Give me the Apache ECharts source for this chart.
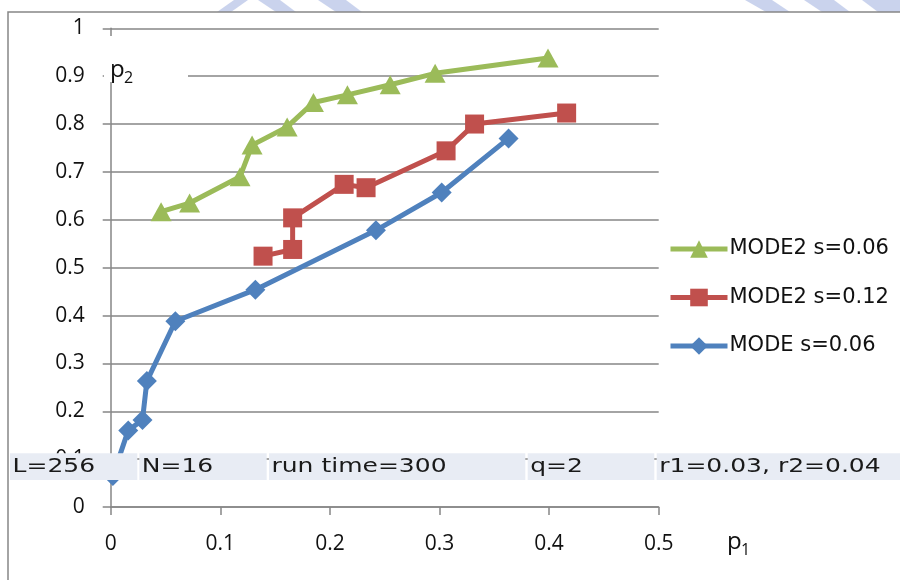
<!DOCTYPE html>
<html>
<head>
<meta charset="utf-8">
<script src="https://cdn.jsdelivr.net/npm/echarts@6/dist/echarts.min.js"></script>
<style>
  html, body { margin: 0; padding: 0; background: #fff; }
  #chart { width: 900px; height: 580px; }
</style>
</head>
<body>
<div id="chart"></div>
<script>
// MODE2, s=0.06 (triangles)
const mode2s006X = [0.046, 0.072, 0.118, 0.129, 0.161, 0.185, 0.216, 0.255, 0.296, 0.399];
const mode2s006Y = [0.617, 0.635, 0.690, 0.756, 0.794, 0.845, 0.861, 0.882, 0.906, 0.938];
// MODE2, s=0.12 (squares)
const mode2s012X = [0.139, 0.166, 0.166, 0.213, 0.233, 0.306, 0.332, 0.416];
const mode2s012Y = [0.524, 0.538, 0.604, 0.674, 0.667, 0.744, 0.800, 0.823];
// MODE, s=0.06 (diamonds)
const modeS006X = [0.002, 0.016, 0.029, 0.033, 0.059, 0.132, 0.242, 0.302, 0.363];
const modeS006Y = [0.065, 0.160, 0.182, 0.263, 0.388, 0.454, 0.578, 0.657, 0.770];

const seriesNames = ['MODE2 s=0.06', 'MODE2 s=0.12', 'MODE s=0.06'];
const infoCells = ['L=256', 'N=16', 'run time=300', 'q=2', 'r1=0.03, r2=0.04'];
const xTicks = { min: 0, max: 0.5, step: 0.1 };
const yTicks = { min: 0, max: 1, step: 0.1 };

const pairs = (xs, ys) => xs.map((x, i) => [x, ys[i]]);

const gridLeft = 110.7, gridTop = 28.3, gridRight = 900 - 658.7, gridBottom = 580 - 507;
const axisGray = '#868686';
const tickFont = 'Open Sans';
const lineW = 5;

// parameter strip cells across the lower part of the plot
const cellBounds = [[10, 137.3], [139.3, 266.7], [269, 525.3], [527.7, 654.3], [656.7, 900]];
const stripTop = 453.3, stripBottom = 480;
const stripGraphics = [];
infoCells.forEach((txt, i) => {
  const [x0, x1] = cellBounds[i];
  stripGraphics.push({
    type: 'rect', z: 100, silent: true,
    shape: { x: x0, y: stripTop, width: x1 - x0, height: stripBottom - stripTop },
    style: { fill: '#e8ecf4' }
  });
  stripGraphics.push({
    type: 'text', z: 101, silent: true,
    x: x0 + 2.5, y: (stripTop + stripBottom) / 2 + 0.5, scaleX: 1.25,
    style: { text: txt, fontFamily: 'DejaVu Sans', fontSize: 20, fill: '#1a1a1a',
             align: 'left', verticalAlign: 'middle' }
  });
});

// faint bluish band fragments along the top edge
const bandColor = 'rgba(150,168,220,0.5)';
const bands = [
  [[217, 12], [234, 0], [248, 0], [231, 12]],
  [[258, 0], [280, 0], [296, 12], [276, 12]],
  [[318, 0], [346, 0], [362, 12], [336, 12]],
  [[745, 0], [772, 0], [790, 12], [766, 12]],
  [[804, 0], [834, 0], [850, 12], [822, 12]],
  [[862, 0], [900, 0], [900, 12], [878, 12]]
].map(pts => ({ type: 'polygon', z: 1, silent: true, shape: { points: pts }, style: { fill: bandColor } }));

const chart = echarts.init(document.getElementById('chart'), null, { renderer: 'canvas' });

chart.setOption({
  animation: false,
  backgroundColor: '#ffffff',
  grid: { left: gridLeft, top: gridTop, right: gridRight, bottom: gridBottom, containLabel: false },
  xAxis: {
    type: 'value', min: xTicks.min, max: xTicks.max, interval: xTicks.step,
    axisLine: { show: true, onZero: false, lineStyle: { color: axisGray, width: 1.5 } },
    axisTick: { show: true, inside: false, length: 8, lineStyle: { color: axisGray, width: 1.5 } },
    splitLine: { show: false },
    axisLabel: { margin: 27, color: '#111', fontFamily: tickFont, fontSize: 21,
                 formatter: v => String(parseFloat(v.toFixed(2))) }
  },
  yAxis: {
    type: 'value', min: yTicks.min, max: yTicks.max, interval: yTicks.step,
    axisLine: { show: true, lineStyle: { color: axisGray, width: 1.5 } },
    axisTick: { show: true, inside: false, length: 8, lineStyle: { color: axisGray, width: 1.5 } },
    splitLine: { show: true, lineStyle: { color: axisGray, width: 1.5 } },
    axisLabel: { margin: 26, color: '#111', fontFamily: tickFont, fontSize: 21,
                 formatter: v => String(parseFloat(v.toFixed(2))) }
  },
  legend: {
    orient: 'vertical', left: 663, top: 233,
    itemWidth: 57, itemHeight: 22, itemGap: 26.5,
    data: seriesNames,
    lineStyle: { width: lineW },
    textStyle: { fontFamily: 'DejaVu Sans', fontSize: 21, color: '#111', lineHeight: 22, padding: [0, 0, 0, -3] }
  },
  series: [
    {
      name: seriesNames[2], type: 'line', data: pairs(modeS006X, modeS006Y),
      symbol: 'diamond', symbolSize: 20, z: 3,
      lineStyle: { color: '#4f81bd', width: lineW }, itemStyle: { color: '#4f81bd' }
    },
    {
      name: seriesNames[1], type: 'line', data: pairs(mode2s012X, mode2s012Y),
      symbol: 'rect', symbolSize: 19, z: 4,
      lineStyle: { color: '#c0504d', width: lineW }, itemStyle: { color: '#c0504d' }
    },
    {
      name: seriesNames[0], type: 'line', data: pairs(mode2s006X, mode2s006Y),
      symbol: 'triangle', symbolSize: [21, 19], z: 5,
      lineStyle: { color: '#9bbb59', width: lineW }, itemStyle: { color: '#9bbb59' }
    }
  ],
  graphic: [
    ...bands,
    // outer frame (left and top edges)
    { type: 'polyline', z: 2, silent: true,
      shape: { points: [[8, 580], [8, 12], [900, 12]] },
      style: { stroke: axisGray, lineWidth: 1.5, fill: null } },
    // y axis title box
    { type: 'rect', z: 50, silent: true,
      shape: { x: 104, y: 36, width: 84, height: 46 }, style: { fill: '#ffffff' } },
    { type: 'text', z: 51, silent: true, x: 110, y: 70,
      style: { text: 'p', fontFamily: tickFont, fontSize: 24, fill: '#111', verticalAlign: 'middle' } },
    { type: 'text', z: 51, silent: true, x: 124, y: 78,
      style: { text: '2', fontFamily: tickFont, fontSize: 16, fill: '#111', verticalAlign: 'middle' } },
    // x axis title
    { type: 'text', z: 51, silent: true, x: 727, y: 542,
      style: { text: 'p', fontFamily: tickFont, fontSize: 24, fill: '#111', verticalAlign: 'middle' } },
    { type: 'text', z: 51, silent: true, x: 741, y: 550,
      style: { text: '1', fontFamily: tickFont, fontSize: 16, fill: '#111', verticalAlign: 'middle' } },
    ...stripGraphics
  ]
});
</script>
</body>
</html>
